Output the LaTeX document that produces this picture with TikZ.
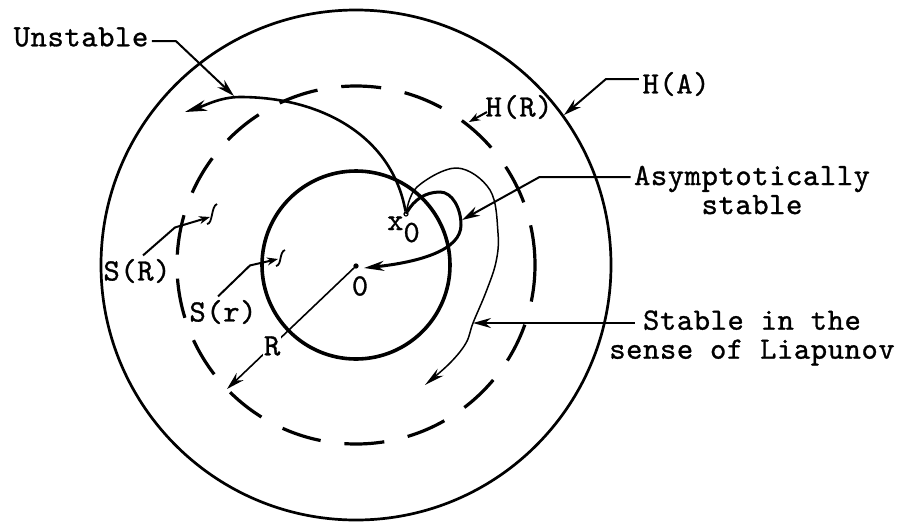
\documentclass[tikz,border=0pt]{standalone}
\usepackage{fontspec}
\newfontfamily\labfont{lmmono10-regular.otf}[LetterSpace=2, FakeBold=1]
\usetikzlibrary{arrows.meta,calc}

\begin{document}
\begin{tikzpicture}[
    x=1pt, y=-1pt,
    lab/.style={font=\labfont\fontsize{31}{29}\selectfont},
    ring/.style={draw, line width=2.7pt},
    traj/.style={line width=2.6pt},
    ptr/.style={line width=2pt, -{Stealth[length=18pt,width=10pt]}},
    tinyptr/.style={line width=2pt, -{Stealth[length=11pt,width=8pt]}},
    dotm/.style={circle, draw, line width=1.2pt, inner sep=0pt, minimum size=4pt}
]
    \useasboundingbox (0,0) rectangle (902,523);
    \coordinate (c) at (356,265);

    % origin and radius R (circles go over it)
    \node[dotm, fill] (o) at (356,266) {};
    \coordinate (rtip) at (227,389);
    \draw[line width=1.6pt, -{Stealth[length=18pt,width=10pt]}] (o) --
        node[lab, pos=0.645, fill=white, inner sep=1pt] (rlab) {R} (rtip);
    \node[lab] (olab) at (360,286) {0};

    % H(A), H(R), S(r)
    \draw[ring] (c) circle[radius=255pt];
    \draw[ring, line width=3.2pt, dash pattern=on 40pt off 24pt] (c) circle[radius=179pt];
    \draw[ring, line width=3.6pt] (c) circle[radius=94pt];

    % starting point x0
    \node[dotm, fill=white] (x0) at (406,214) {};
    \node[lab, anchor=base west, inner sep=0pt] (x0lab) at (387,230) {x\raisebox{-12pt}{0}};

    % unstable trajectory
    \coordinate (uend) at (185,112);
    \draw[traj, -{Stealth[length=22pt,width=11pt]}] (x0)
        .. controls (392,135) and (320,97) .. (240,97)
        .. controls (220,97) and (204,106) .. (uend);

    % asymptotically stable trajectory
    \coordinate (aend) at (364,268);
    \draw[traj, line width=3pt, -{Stealth[length=20pt,width=10pt]}] (x0)
        .. controls (414,200) and (425,192) .. (440,192)
        .. controls (452,192) and (461,208) .. (461,225)
        .. controls (461,250) and (420,262) .. (aend);

    % stable in the sense of Liapunov
    \draw[line width=1.5pt, -{Stealth[length=20pt,width=9pt]}] plot[smooth, tension=0.6]
        coordinates {(x0) (417,187) (457,168) (490,190) (498,233) (496,262)
                     (486,292) (473,323) (466,343) (450,363) (425,385)};

    % labels
    \node[lab] (unst) at (81,37) {Unstable};
    \node[lab] (ha) at (676,84) {H(A)};
    \node[lab] (hr) at (519,107) {H(R)};
    \node[lab, align=center] (as) at (752,190) {Asymptotically\\stable};
    \node[lab, align=center] (sl) at (752,338) {Stable in the\\sense of Liapunov};
    \node[lab] (sR) at (137,271) {S(R)};
    \node[lab] (sr) at (223,312) {S(r)};

    % pointers
    \coordinate (utip) at (234,96);
    \coordinate (hatip) at (564,115);
    \coordinate (hrtip) at (469,122);
    \coordinate (astip) at (462,220);
    \coordinate (sltip) at (473,323);
    \coordinate (sRtip) at (210,217);
    \coordinate (srtip) at (278,259);
    \draw[ptr] ([yshift=-4pt]unst.east) -- ++(24,0) -- (utip);
    \draw[ptr] ([yshift=5pt]ha.west) -- ++(-33,0) -- (hatip);
    \draw[tinyptr] ($(hr.west)+(5,5)$) -- (hrtip);
    \draw[ptr] ([yshift=13pt]as.west) -- ++(-91,0) -- (astip);
    \draw[ptr] ([xshift=29pt,yshift=15pt]sl.west) -- (sltip);
    \draw[tinyptr] ([xshift=6pt]sR.north) -- ++(32,-28) -- (sRtip);
    \draw[tinyptr] ([xshift=-5pt]sr.north) -- ++(32,-31) -- (srtip);

    % small tails at the S arrows
    \draw[line width=1.8pt] (207,224) .. controls (213,224) and (211,206) .. (217,204);
    \draw[line width=1.8pt] (276,266) .. controls (282,265) and (279,252) .. (285,250);
\end{tikzpicture}
\end{document}
